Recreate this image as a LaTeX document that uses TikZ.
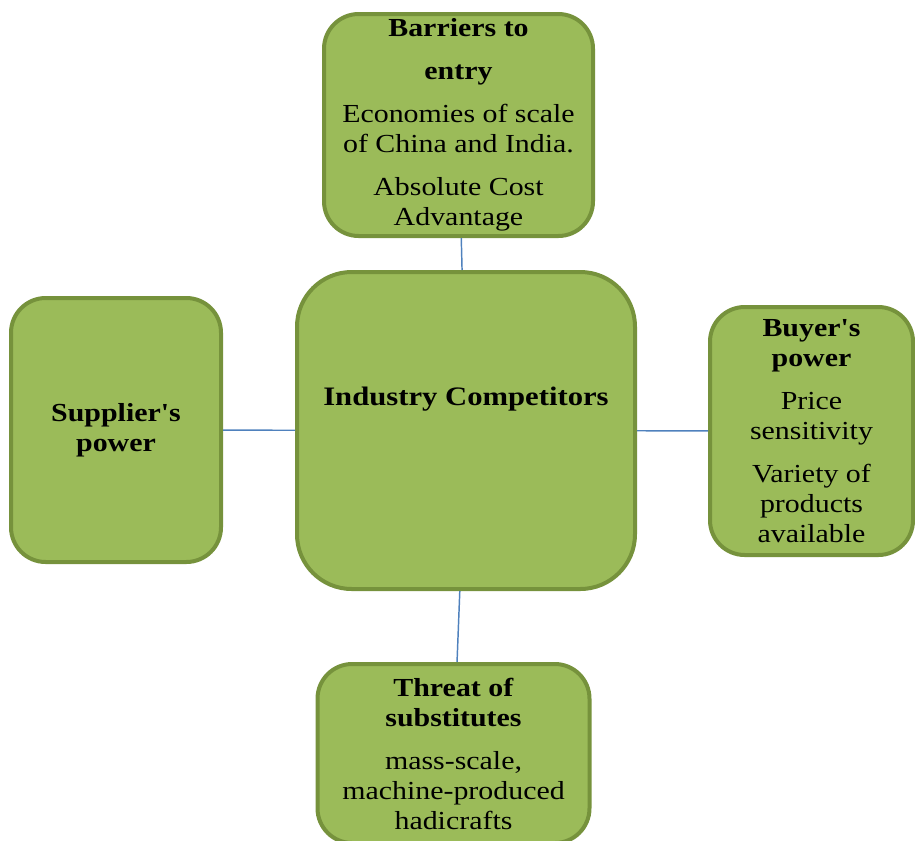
\documentclass[tikz,border=0pt]{standalone}
\usepackage{fontspec}
\setmainfont{Liberation Serif}[FakeStretch=1.15, Ligatures=TeXOff]
\usetikzlibrary{positioning}
\definecolor{boxfill}{HTML}{9BBB59}
\definecolor{boxline}{HTML}{76923C}
\definecolor{linkline}{HTML}{4F81BD}

\begin{document}
\begin{tikzpicture}[x=0.75pt, y=-0.75pt,
    force/.style={draw=boxline, fill=boxfill, line width=3pt, rounded corners=26pt,
      align=center, inner sep=0pt, font=\fontsize{19.5}{22.5}\selectfont},
    link/.style={draw=linkline, line width=1.1pt}]
  \useasboundingbox (0,0) rectangle (915,840);

  \node [force, minimum width=253.5pt, minimum height=237.75pt, rounded corners=41pt] at (466, 430.5) (ind) {};
  \node [font=\fontsize{20}{22.5}\selectfont\bfseries] at (466, 399) (indtext) {Industry Competitors};

  \node [force, minimum width=201.75pt, minimum height=166.5pt] at (458.5, 125) (entry)
    {\textbf{Barriers to}\\[9.75pt]\textbf{entry}\\[9.75pt]Economies of scale\\of China and India.\\[9.75pt]Absolute Cost\\Advantage};
  \node [force, minimum width=157.5pt, minimum height=198pt] at (116, 430) (sup)
    {\textbf{Supplier's}\\\textbf{power}};
  \node [force, minimum width=152.25pt, minimum height=186pt] at (811.5, 431) (buy)
    {\textbf{Buyer's}\\\textbf{power}\\[9.75pt]Price\\sensitivity\\[9.75pt]Variety of\\products\\available};
  \node [force, minimum width=204pt, minimum height=134.25pt] at (453.5, 753.5) (sub)
    {\textbf{Threat of}\\\textbf{substitutes}\\[9.75pt]mass-scale,\\machine-produced\\hadicrafts};

  \draw [link] (entry) -- (ind);
  \draw [link] (sub) -- (ind);
  \draw [link] (sup) -- (ind);
  \draw [link] (buy) -- (ind);
\end{tikzpicture}
\end{document}
